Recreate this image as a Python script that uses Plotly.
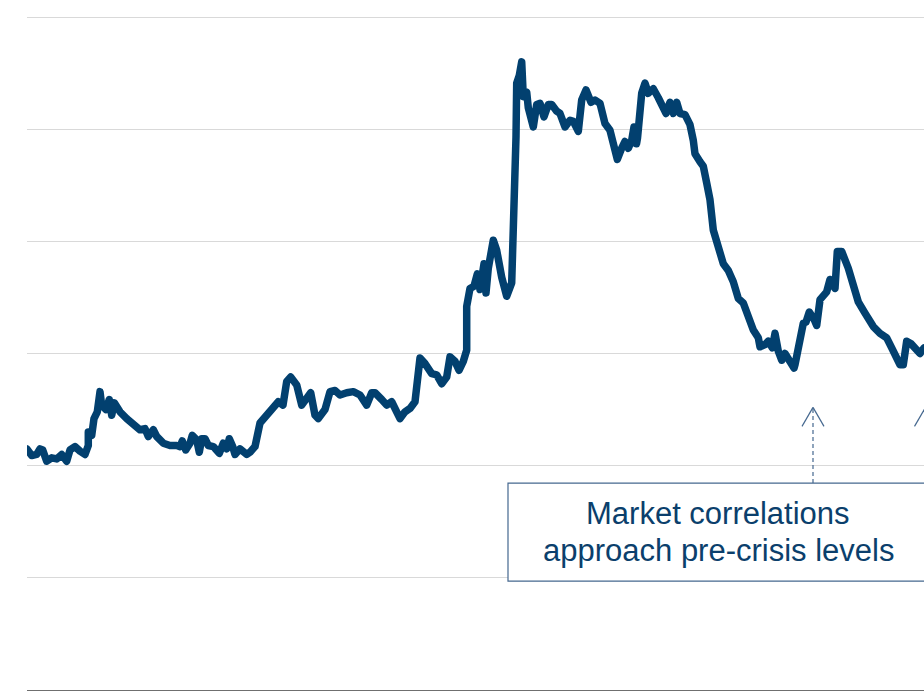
import plotly.graph_objects as go

# Time index (arbitrary periods) and average market correlation (%)
period = [
    -0.3, 4.7, 9.7, 13.0, 15.7, 19.7, 24.7, 29.7, 34.7, 39.7, 43.0, 48.0, 53.0, 58.0, 61.3, 61.3, 64.7, 67.0, 70.3, 73.0,
    74.7, 79.0, 82.3, 84.7, 87.3, 93.0, 99.7, 106.3, 113.0, 118.0, 121.3, 126.3, 129.7, 136.3, 143.0, 149.7, 153.0, 155.3, 158.7, 163.0,
    165.3, 169.7, 172.3, 174.7, 178.0, 181.3, 186.3, 192.3, 196.3, 199.7, 202.3, 205.7, 208.0, 213.0, 219.7, 223.0, 228.0, 233.0, 238.0, 244.7,
    251.3, 256.0, 259.7, 263.7, 269.7, 274.7, 279.7, 283.7, 288.0, 291.3, 298.0, 303.0, 308.0, 313.0, 319.7, 326.3, 333.0, 339.7, 344.7, 348.0,
    354.7, 359.7, 364.7, 369.7, 373.0, 378.0, 383.0, 388.0, 389.7, 393.0, 398.0, 404.7, 409.7, 414.7, 419.7, 423.0, 428.0, 432.0, 436.3, 439.7,
    439.7, 443.0, 447.0, 450.3, 453.0, 457.0, 459.0, 461.3, 466.3, 469.7, 474.7, 479.7, 484.7, 486.3, 487.0, 488.0, 489.0, 489.7, 492.3, 494.7,
    496.3, 499.7, 501.3, 506.3, 509.7, 513.0, 517.0, 521.3, 524.7, 529.7, 533.0, 538.0, 543.0, 546.3, 551.3, 554.7, 559.0, 564.0, 568.0, 573.0,
    578.0, 583.0, 587.0, 590.3, 594.7, 598.0, 601.3, 604.7, 607.0, 609.5, 610.5, 614.7, 618.0, 621.3, 626.3, 631.3, 636.3, 639.0, 643.0, 646.3,
    649.7, 653.0, 658.0, 663.0, 666.3, 668.0, 673.0, 676.3, 679.7, 683.0, 686.3, 691.3, 696.3, 701.3, 706.3, 711.3, 716.3, 721.3, 726.3, 731.3,
    733.0, 738.0, 741.3, 745.3, 748.0, 751.3, 754.7, 758.0, 762.3, 767.0, 768.0, 771.3, 772.3, 776.3, 779.0, 782.3, 787.3, 789.7, 793.0, 797.0,
    799.7, 803.0, 806.3, 808.0, 810.3, 814.7, 821.3, 826.3, 831.3, 838.0, 841.3, 846.3, 853.0, 859.7, 864.7, 869.7, 873.0, 876.3, 879.7, 883.7,
    888.0, 893.0, 897.0,
]
correlation = [
    21.5, 20.9, 21.0, 21.5, 21.4, 20.4, 20.7, 20.6, 21.0, 20.4, 21.4, 21.7, 21.3, 21.0, 21.8, 23.0, 22.7, 24.2, 24.8, 26.6,
    25.4, 25.0, 25.9, 24.5, 25.6, 24.8, 24.2, 23.6, 23.2, 23.3, 22.6, 23.2, 22.6, 22.0, 21.8, 21.8, 21.7, 22.2, 21.4, 22.0,
    22.7, 22.3, 21.2, 22.4, 22.4, 21.8, 21.7, 21.1, 22.0, 21.5, 22.4, 21.7, 21.0, 21.5, 21.0, 21.2, 21.7, 23.8, 24.3, 24.8,
    25.7, 25.4, 27.5, 27.9, 27.2, 25.4, 25.9, 26.5, 24.5, 24.2, 25.0, 26.6, 26.7, 26.3, 26.5, 26.6, 26.3, 25.4, 26.5, 26.5,
    25.9, 25.4, 25.7, 24.8, 24.2, 24.8, 25.1, 25.7, 27.0, 29.6, 29.1, 28.2, 28.1, 27.3, 27.9, 29.7, 29.3, 28.5, 29.3, 30.3,
    34.2, 35.8, 36.0, 37.1, 35.7, 38.0, 35.4, 37.6, 40.1, 39.2, 36.8, 35.1, 36.3, 39.8, 42.8, 46.7, 49.3, 54.1, 54.8, 56.0,
    52.9, 53.3, 51.9, 50.2, 52.2, 52.3, 51.1, 52.2, 52.2, 51.6, 51.4, 50.2, 50.8, 50.7, 49.8, 52.6, 53.5, 52.4, 52.6, 52.3,
    50.5, 49.9, 48.4, 47.3, 48.3, 48.9, 48.3, 49.0, 50.2, 48.7, 49.2, 53.2, 54.1, 53.2, 53.6, 52.8, 51.9, 51.4, 52.4, 51.4,
    52.4, 51.4, 51.3, 50.4, 49.0, 47.8, 47.1, 46.7, 45.2, 43.7, 41.0, 39.5, 38.0, 37.4, 36.4, 34.9, 34.5, 33.3, 32.1, 31.4,
    30.6, 30.8, 31.1, 30.5, 31.8, 30.2, 29.4, 30.0, 29.4, 28.7, 29.0, 30.6, 31.2, 32.7, 32.8, 33.7, 33.0, 32.5, 34.8, 35.2,
    35.5, 36.6, 36.0, 35.8, 39.1, 39.1, 37.6, 36.1, 34.6, 33.6, 33.1, 32.4, 31.8, 31.4, 30.5, 29.4, 29.0, 29.0, 31.1, 30.9,
    30.5, 30.0, 30.5, 30.0,
]
ann_lines = ["Market correlations", "approach pre-crisis levels"]
arrow_targets = [786.0, 898.5]

LINE_C = "#02406f"
ANN_C = "#45688f"
TXT_C = "#0b3f6c"

fig = go.Figure()
fig.add_trace(go.Scatter(
    x=period[:len(correlation)], y=correlation, mode="lines",
    line=dict(color=LINE_C, width=7.5), hoverinfo="skip", showlegend=False,
))

shapes = []
# annotation box
shapes.append(dict(type="rect", xref="x", yref="y", x0=481, x1=901, y0=9.7, y1=18.45,
                   line=dict(color=ANN_C, width=1.2), fillcolor="white", layer="above"))
for xt in arrow_targets:
    shapes.append(dict(type="line", xref="x", yref="y", x0=xt, x1=xt, y0=18.45, y1=25.2,
                       line=dict(color=ANN_C, width=1.2, dash="4px,3px")))
    for dx in (-11, 11):
        shapes.append(dict(type="line", xref="x", yref="y", xsizemode="pixel", ysizemode="pixel",
                           xanchor=xt, yanchor=25.2, x0=0, x1=dx, y0=0, y1=-19,
                           line=dict(color=ANN_C, width=1.2)))

annotations = []
for i, txt in enumerate(ann_lines):
    annotations.append(dict(text=txt, x=691, y=[15.72, 12.42][i], xref="x", yref="y",
                            showarrow=False, xanchor="center", yanchor="middle",
                            font=dict(family="Liberation Sans, Arial, sans-serif", size=31, color=TXT_C)))

fig.update_layout(
    width=924, height=691,
    margin=dict(l=27, r=0, t=12, b=1),
    plot_bgcolor="white", paper_bgcolor="white",
    shapes=shapes, annotations=annotations,
    xaxis=dict(range=[0, 897], showgrid=False, zeroline=False, showticklabels=False,
               showline=True, linecolor="#6f6f6f", linewidth=1.5, ticks=""),
    yaxis=dict(range=[0, 60.446], tickvals=[0, 10, 20, 30, 40, 50, 60], showgrid=True,
               gridcolor="#d9d9d9", gridwidth=1,
               zeroline=False, showticklabels=False, showline=False, ticks=""),
)
post = (
    "document.body.style.margin='0';document.body.style.overflow='hidden';"
    "document.querySelectorAll('.scatterlayer path.js-line').forEach(function(p){"
    "p.style.strokeLinejoin='round';p.style.strokeLinecap='round';});"
)
fig.write_html("out.html", post_script=post, config={"displayModeBar": False, "staticPlot": True})
